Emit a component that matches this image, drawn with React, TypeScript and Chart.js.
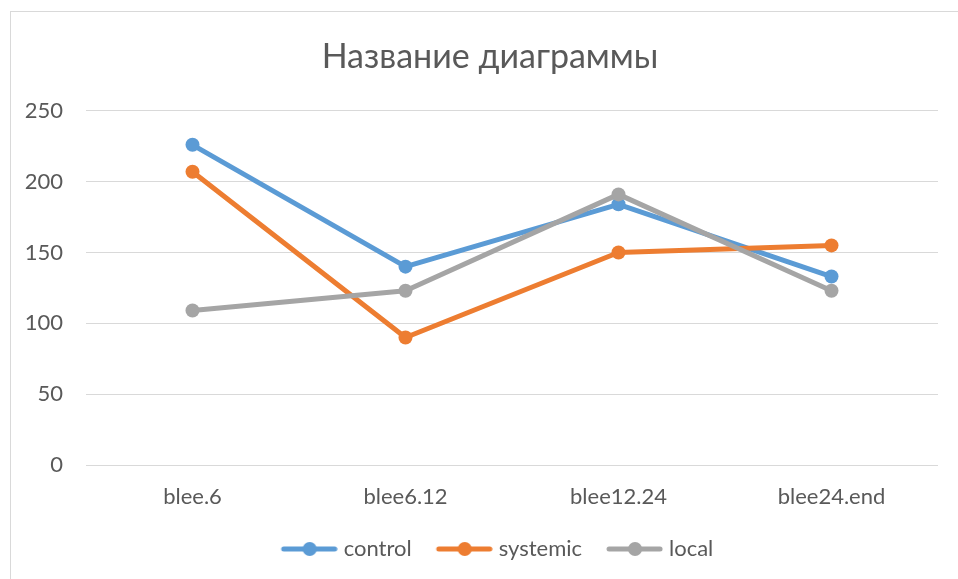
import React, { useEffect, useRef } from "react";
import { Chart, registerables } from "chart.js";

Chart.register(...registerables);

const TITLE = "Название диаграммы";
const categories = ["blee.6", "blee6.12", "blee12.24", "blee24.end"];
const controlValues = [226, 140, 184, 133];
const systemicValues = [207, 90, 150, 155];
const localValues = [109, 123, 191, 123];
const seriesNames = ["control", "systemic", "local"];
const seriesColors = ["#5B9BD5", "#ED7D31", "#A5A5A5"];
const yTicks = { min: 0, max: 250, step: 50 };

const FONT = "Lato, 'Open Sans', sans-serif";
const TEXT = "#595959";
const GRID = "#D9D9D9";

function legendIcon(color: string): HTMLCanvasElement {
  const c = document.createElement("canvas");
  c.width = 76;
  c.height = 18;
  const g = c.getContext("2d")!;
  g.strokeStyle = color;
  g.lineWidth = 5;
  g.lineCap = "round";
  g.beginPath();
  g.moveTo(22, 9);
  g.lineTo(73, 9);
  g.stroke();
  g.fillStyle = color;
  g.beginPath();
  g.arc(48, 9, 7, 0, Math.PI * 2);
  g.fill();
  return c;
}

export default function App() {
  const ref = useRef<HTMLCanvasElement>(null);

  useEffect(() => {
    if (!ref.current) return;
    const allValues = [controlValues, systemicValues, localValues];
    const icons = seriesColors.map(legendIcon);
    const chart = new Chart(ref.current, {
      type: "line",
      data: {
        labels: categories,
        datasets: allValues.map((vals, i) => ({
          label: seriesNames[i],
          data: vals,
          borderColor: seriesColors[i],
          backgroundColor: seriesColors[i],
          borderWidth: 5,
          pointRadius: 7,
          pointHoverRadius: 7,
          pointBorderWidth: 0,
          pointBackgroundColor: seriesColors[i],
          borderJoinStyle: "round" as const,
          borderCapStyle: "round" as const,
          tension: 0,
          order: 3 - i,
        })),
      },
      options: {
        responsive: false,
        animation: false,
        layout: { padding: { left: 42, right: 20, top: 0, bottom: 9 } },
        plugins: {
          tooltip: { enabled: false },
          title: {
            display: true,
            text: TITLE,
            color: TEXT,
            font: { family: FONT, size: 34, weight: "normal" },
            padding: { top: 37, bottom: 33 },
          },
          legend: {
            position: "bottom",
            labels: {
              usePointStyle: true,
              pointStyleWidth: 66,
              boxHeight: 16,
              padding: 10,
              color: TEXT,
              font: { family: FONT, size: 22 },
              generateLabels: () =>
                seriesNames.map((name, i) => ({
                  text: name,
                  fillStyle: seriesColors[i],
                  strokeStyle: seriesColors[i],
                  lineWidth: 0,
                  pointStyle: icons[i],
                  fontColor: TEXT,
                  hidden: false,
                  datasetIndex: i,
                })),
            },
          },
        },
        scales: {
          x: {
            offset: true,
            grid: { display: false, drawTicks: false },
            border: { display: false },
            ticks: {
              color: TEXT,
              font: { family: FONT, size: 22 },
              padding: 19,
              maxRotation: 0,
            },
            afterFit: (scale: any) => {
              scale.height = 63;
            },
          },
          y: {
            min: yTicks.min,
            max: yTicks.max,
            grid: { color: GRID, lineWidth: 1, drawTicks: false },
            border: { display: false },
            ticks: {
              stepSize: yTicks.step,
              color: TEXT,
              font: { family: FONT, size: 22 },
              padding: 23,
            },
            afterFit: (scale: any) => {
              scale.width = 44;
              scale._computeLabelArea = () => undefined;
            },
          },
        },
      },
    });
    return () => chart.destroy();
  }, []);

  return (
    <div
      style={{
        position: "fixed",
        left: 0,
        top: 0,
        width: 958,
        height: 579,
        background: "#fff",
        overflow: "hidden",
      }}
    >
      <div
        style={{
          position: "absolute",
          left: 10,
          top: 11,
          width: 980,
          height: 620,
          border: "1px solid #D9D9D9",
          boxSizing: "border-box",
        }}
      />
      <canvas
        ref={ref}
        width={958}
        height={579}
        style={{ position: "absolute", left: 0, top: 0 }}
      />
    </div>
  );
}
